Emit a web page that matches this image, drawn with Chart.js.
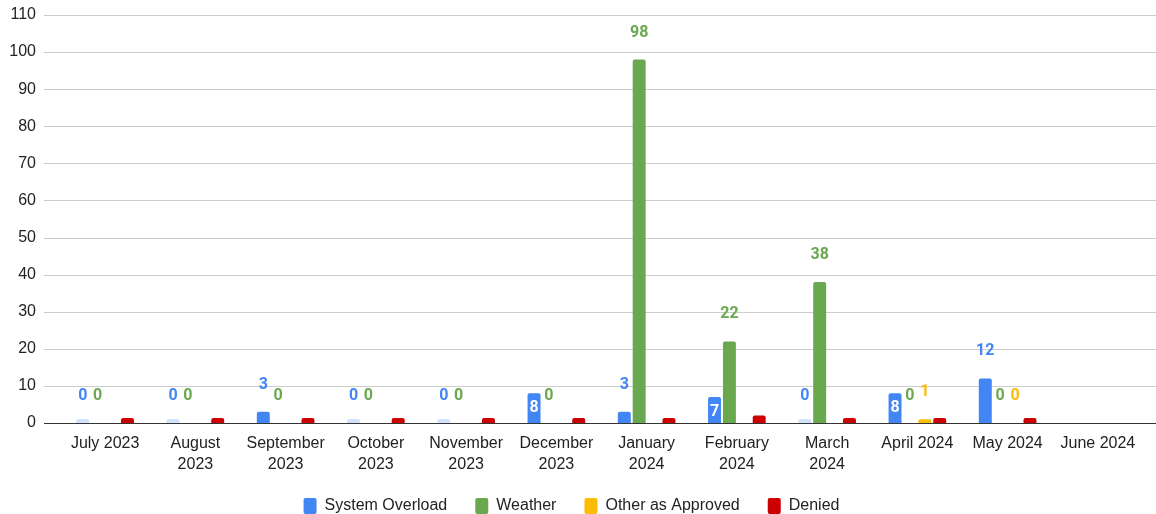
<!DOCTYPE html>
<html>
<head>
<meta charset="utf-8">
<script src="https://cdn.jsdelivr.net/npm/chart.js@4.4.0/dist/chart.umd.min.js"></script>
<style>
  html, body { margin: 0; padding: 0; background: #fff; overflow: hidden; }
  #wrap { width: 1156px; height: 524px; position: relative; }
</style>
</head>
<body>
<div id="wrap"><canvas id="chart"></canvas></div>
<script>
const months = [
  'July 2023', ['August', '2023'], ['September', '2023'], ['October', '2023'],
  ['November', '2023'], ['December', '2023'], ['January', '2024'], ['February', '2024'],
  ['March', '2024'], 'April 2024', 'May 2024', 'June 2024'
];
const systemOverload = [0, 0, 3, 0, 0, 8, 3, 7, 0, 8, 12, null];
const weather        = [0, 0, 0, 0, 0, 0, 98, 22, 38, 0, 0, null];
const otherApproved  = [null, null, null, null, null, null, null, null, null, 1, 0, null];
const denied         = [0, 0, 0, 0, 0, 0, 1, 2, 0, 0, 1, null];
const yTicks = [0, 10, 20, 30, 40, 50, 60, 70, 80, 90, 100, 110];

const BLUE = '#4285f4', GREEN = '#6aa84f', YELLOW = '#fbbc04', RED = '#cc0000';
const AXIS_FONT = 'Liberation Sans, Arial, sans-serif';

// full-width gridlines, like the sheets chart (they run past the category area)
const gridPlugin = {
  id: 'grid',
  beforeDatasetsDraw(chart){
    const {ctx, scales:{y}, chartArea} = chart;
    ctx.save();
    for(const v of yTicks){
      const py = Math.round(y.getPixelForValue(v)) + 0.5;
      ctx.strokeStyle = v === 0 ? '#333' : '#cccccc';
      ctx.lineWidth = 1;
      ctx.beginPath();
      ctx.moveTo(chartArea.left - 16, py);
      ctx.lineTo(chart.width, py);
      ctx.stroke();
    }
    ctx.restore();
  }
};

// value labels: above the bar, or inside for mid-size bars
const labelPlugin = {
  id: 'vals',
  afterDatasetsDraw(chart){
    const {ctx, scales:{y}} = chart;
    ctx.save();
    ctx.font = 'bold 16px Roboto';
    ctx.textAlign = 'center';
    ctx.textBaseline = 'middle';
    [0, 1, 2].forEach(di => {
      const ds = chart.data.datasets[di];
      const meta = chart.getDatasetMeta(di);
      ds.data.forEach((v, i) => {
        if(v === null) return;
        const bar = meta.data[i];
        const top = y.getPixelForValue(v);
        if(v >= 5 && v <= 10){
          ctx.fillStyle = '#fff';
          ctx.fillText(String(v), bar.x, top + 15);
        } else {
          ctx.fillStyle = ds.labelColor;
          ctx.fillText(String(v), bar.x, top - 27);
        }
      });
    });
    ctx.restore();
  }
};

new Chart(document.getElementById('chart'), {
  type: 'bar',
  data: {
    labels: months,
    datasets: [
      { label: 'System Overload', data: systemOverload, labelColor: BLUE,
        backgroundColor: c => c.raw === 0 ? '#d2e2fc' : BLUE, minBarLength: 4 },
      { label: 'Weather', data: weather, labelColor: GREEN, backgroundColor: GREEN },
      { label: 'Other as Approved', data: otherApproved, labelColor: YELLOW, backgroundColor: YELLOW },
      { label: 'Denied', data: denied, labelColor: RED, backgroundColor: RED, minBarLength: 5 }
    ]
  },
  options: {
    responsive: true,
    maintainAspectRatio: false,
    animation: false,
    datasets: { bar: { categoryPercentage: 0.66, barPercentage: 0.87, borderRadius: 2, borderSkipped: 'bottom' } },
    layout: { padding: { top: 15, right: 13, left: 0, bottom: 0 } },
    plugins: {
      legend: {
        position: 'bottom',
        labels: {
          color: '#222', font: { family: AXIS_FONT, size: 16 },
          boxWidth: 13, boxHeight: 16, padding: 28,
          useBorderRadius: true, borderRadius: 2,
          generateLabels(chart){
            return Chart.defaults.plugins.legend.labels.generateLabels(chart).map(l => {
              const ds = chart.data.datasets[l.datasetIndex];
              l.fillStyle = ds.labelColor; l.strokeStyle = ds.labelColor; l.lineWidth = 0;
              return l;
            });
          }
        }
      },
      tooltip: { enabled: false }
    },
    scales: {
      x: {
        grid: { display: false, drawTicks: false },
        border: { display: false },
        ticks: { color: '#222', font: { family: AXIS_FONT, size: 16, lineHeight: 1.3 },
                 maxRotation: 0, autoSkip: false, padding: 10 },
        afterFit(s){ s.height = 47; }
      },
      y: {
        min: 0, max: 110,
        grid: { display: false, drawTicks: false },
        border: { display: false },
        afterBuildTicks(s){ s.ticks = yTicks.map(v => ({ value: v })); },
        ticks: { color: '#222', font: { family: AXIS_FONT, size: 16 }, padding: 24 },
        // the label gap should not push the plot down from the top
        afterFit(s){ s.width = 60; s.paddingTop = 0; s.paddingBottom = 0; }
      }
    }
  },
  plugins: [gridPlugin, labelPlugin]
});
</script>
</body>
</html>
